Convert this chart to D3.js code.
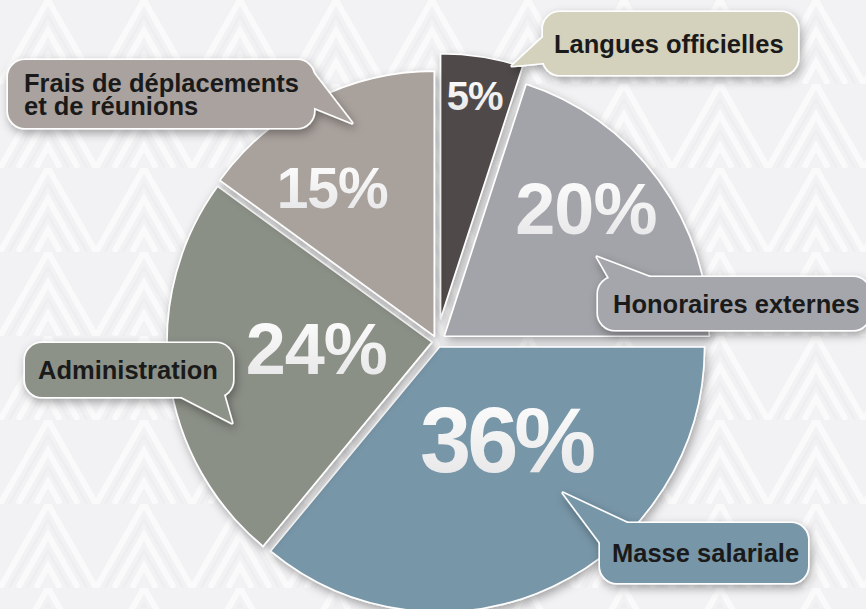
<!DOCTYPE html>
<html>
<head>
<meta charset="utf-8">
<script src="https://cdn.jsdelivr.net/npm/d3@7"></script>
<style>
html, body { margin: 0; padding: 0; background: #f2f2f4; }
svg { display: block; }
</style>
</head>
<body>
<svg id="chart"></svg>
<script>
// data
const categories = ["Langues officielles", "Honoraires externes", "Masse salariale", "Administration", "Frais de déplacements et de réunions"];
const shares = [5, 20, 36, 24, 15];
const sliceColors = ["#4f4a48", "#a3a4a9", "#7796a8", "#8b9087", "#a9a19c"];
const boxColors = ["#d4d1bd", "#a5a6ab", "#7796a8", "#8d9289", "#aaa29e"];

// layout
const width = 866, height = 609;
const cx = 437, cy = 341.5, radius = 265;
const explode = [23, 9, 6, 5, 6];
const pctSpot = [[8.7, 249], [48.1, 200], [144.7, 119.5], [266.7, 121], [325.7, 186]]; // angle (deg), distance
const pctSize = [40, 72, 92, 72, 57];
const boxes = [
    { x: 543, y: 12, w: 255, h: 63, pad: 11, lines: ["Langues officielles"], tail: [[553, 28], [553, 62], [512, 66]] },
    { x: 598, y: 277, w: 272, h: 53, pad: 15, lines: ["Honoraires externes"], tail: [[617, 292], [660, 281], [597, 257]] },
    { x: 600, y: 523, w: 208, h: 60, pad: 12, lines: ["Masse salariale"], tail: [[610, 556], [640, 529], [563, 493]] },
    { x: 25, y: 343, w: 208, h: 54, pad: 13, lines: ["Administration"], tail: [[168, 390], [222, 388], [232, 423]] },
    { x: 8, y: 60, w: 306, h: 68, pad: 16, lines: ["Frais de déplacements", "et de réunions"], tail: [[305, 62], [300, 102], [352, 123]] }
];
const labelFont = 25.5;

const svg = d3.select("#chart")
    .attr("width", width)
    .attr("height", height);

const defs = svg.append("defs");

const shadow = defs.append("filter")
    .attr("id", "shadow")
    .attr("x", "-20%").attr("y", "-20%")
    .attr("width", "140%").attr("height", "150%");
shadow.append("feDropShadow")
    .attr("dx", 2).attr("dy", 4)
    .attr("stdDeviation", 5)
    .attr("flood-color", "#000")
    .attr("flood-opacity", 0.33);

const grad = defs.append("linearGradient")
    .attr("id", "pctGrad")
    .attr("x1", 0).attr("y1", 0).attr("x2", 0).attr("y2", 1);
grad.append("stop").attr("offset", "0%").attr("stop-color", "#ffffff");
grad.append("stop").attr("offset", "100%").attr("stop-color", "#e4e4e6");

// faint woven background
const pat = defs.append("pattern")
    .attr("id", "weave")
    .attr("patternUnits", "userSpaceOnUse")
    .attr("width", 96).attr("height", 84);
pat.append("rect").attr("width", 96).attr("height", 84).attr("fill", "#f2f2f4");
pat.append("path")
    .attr("d", "M0,84 L48,0 L96,84 M18,84 L48,31 L78,84 M36,84 L48,62 L60,84")
    .attr("fill", "none")
    .attr("stroke", "#fafafb")
    .attr("stroke-width", 6);
pat.append("path")
    .attr("d", "M9,84 L48,16 L87,84 M27,84 L48,47 L69,84")
    .attr("fill", "none")
    .attr("stroke", "#ebebee")
    .attr("stroke-width", 2.5)
    .attr("opacity", 0.6);

svg.append("rect")
    .attr("width", width)
    .attr("height", height)
    .attr("fill", "url(#weave)");

// pie
const pie = d3.pie().sort(null).value(d => d);
const arc = d3.arc().innerRadius(0).outerRadius(radius);
const arcs = pie(shares);

const pieG = svg.append("g")
    .attr("transform", `translate(${cx}, ${cy})`);

pieG.selectAll("path.slice")
    .data(arcs)
    .enter().append("path")
    .attr("class", "slice")
    .attr("transform", (d, i) => {
        const mid = (d.startAngle + d.endAngle) / 2;
        return `translate(${Math.sin(mid) * explode[i]}, ${-Math.cos(mid) * explode[i]})`;
    })
    .attr("d", arc)
    .attr("fill", (d, i) => sliceColors[i])
    .attr("stroke", "#ffffff")
    .attr("stroke-width", 1.6)
    .attr("stroke-linejoin", "round")
    .attr("filter", "url(#shadow)");

// percent labels
pieG.selectAll("text.pct")
    .data(arcs)
    .enter().append("text")
    .attr("class", "pct")
    .attr("x", (d, i) => Math.sin(pctSpot[i][0] * Math.PI / 180) * pctSpot[i][1])
    .attr("y", (d, i) => -Math.cos(pctSpot[i][0] * Math.PI / 180) * pctSpot[i][1])
    .attr("dy", "0.36em")
    .attr("text-anchor", "middle")
    .attr("font-family", "'Liberation Sans', Arial, Helvetica, sans-serif")
    .attr("font-weight", "bold")
    .attr("font-size", (d, i) => pctSize[i])
    .attr("letter-spacing", (d, i) => i === 2 ? -4 : -1)
    .attr("fill", "url(#pctGrad)")
    .text(d => d.data + "%");

// callouts
function roundRect(b, r) {
    return `M${b.x + r},${b.y} H${b.x + b.w - r} A${r},${r} 0 0 1 ${b.x + b.w},${b.y + r}`
        + ` V${b.y + b.h - r} A${r},${r} 0 0 1 ${b.x + b.w - r},${b.y + b.h}`
        + ` H${b.x + r} A${r},${r} 0 0 1 ${b.x},${b.y + b.h - r}`
        + ` V${b.y + r} A${r},${r} 0 0 1 ${b.x + r},${b.y} Z`;
}

boxes.forEach(function (b, i) {
    const g = svg.append("g").attr("filter", "url(#shadow)");
    const parts = [roundRect(b, 17), "M" + b.tail.map(p => p.join(",")).join(" L") + " Z"];

    // white outline first, then plain fills on top hide the inner seams
    parts.forEach(function (p) {
        g.append("path")
            .attr("d", p)
            .attr("fill", boxColors[i])
            .attr("stroke", "#ffffff")
            .attr("stroke-width", 3.2)
            .attr("stroke-linejoin", "round");
    });
    parts.forEach(function (p) {
        g.append("path")
            .attr("d", p)
            .attr("fill", boxColors[i]);
    });

    const t = svg.append("text")
        .attr("font-family", "'Liberation Sans', Arial, Helvetica, sans-serif")
        .attr("font-weight", "bold")
        .attr("font-size", labelFont)
        .attr("fill", "#1b1a1a");
    const lineH = 23;
    const y0 = b.y + b.h / 2 + labelFont * 0.36 - (b.lines.length - 1) * lineH / 2;
    b.lines.forEach(function (line, k) {
        t.append("tspan")
            .attr("x", b.x + b.pad)
            .attr("y", y0 + k * lineH)
            .text(line);
    });
});
</script>
</body>
</html>
